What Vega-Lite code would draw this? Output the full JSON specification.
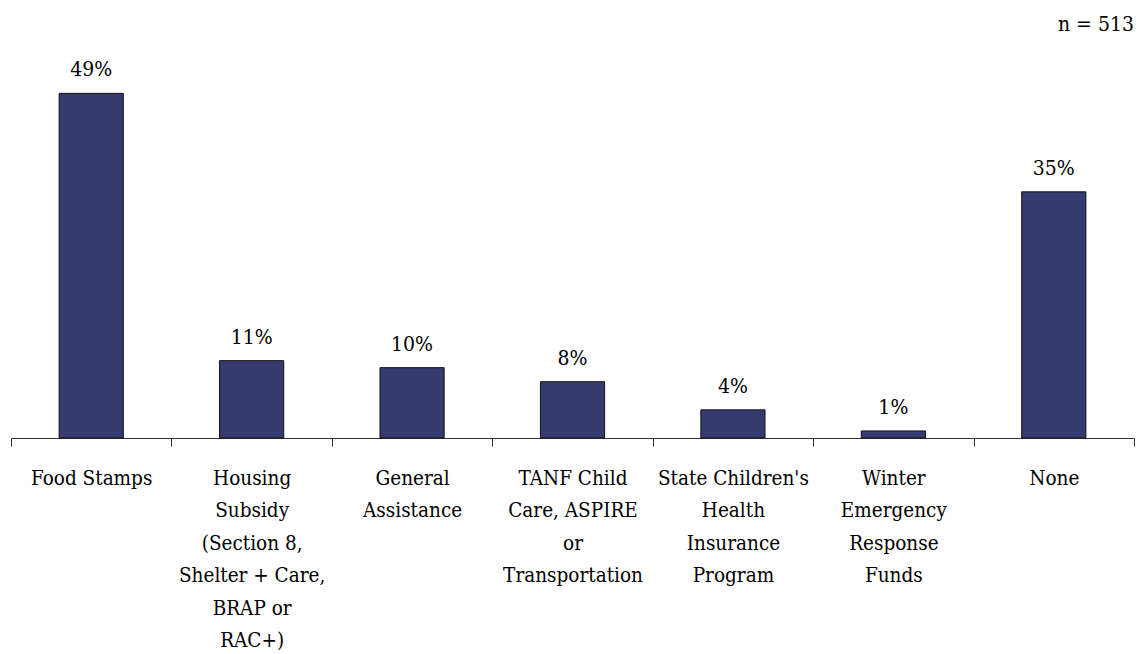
{
  "$schema": "https://vega.github.io/schema/vega-lite/v6.json",
  "autosize": "none",
  "width": 1123,
  "height": 422,
  "padding": {"left": 11, "top": 16, "right": 10, "bottom": 216},
  "background": "white",
  "config": {"view": {"stroke": null}, "font": "DejaVu Serif Condensed"},
  "data": {"values": [
    {"program": "Food Stamps", "pct": 0.49, "order": 1},
    {"program": "Housing|Subsidy|(Section 8,|Shelter + Care,|BRAP or|RAC+)", "pct": 0.11, "order": 2},
    {"program": "General|Assistance", "pct": 0.10, "order": 3},
    {"program": "TANF Child|Care, ASPIRE|or|Transportation", "pct": 0.08, "order": 4},
    {"program": "State Children's|Health|Insurance|Program", "pct": 0.04, "order": 5},
    {"program": "Winter|Emergency|Response|Funds", "pct": 0.01, "order": 6},
    {"program": "None", "pct": 0.35, "order": 7}
  ]},
  "encoding": {
    "x": {
      "field": "program", "type": "nominal", "sort": {"field": "order"},
      "scale": {"paddingInner": 0, "paddingOuter": 0},
      "axis": {
        "title": null, "labelAngle": 0, "tickBand": "extent",
        "labelExpr": "datum.value ? split(datum.value, '|') : ''",
        "labelFont": "DejaVu Serif Condensed", "labelFontSize": 20.5, "labelColor": "black",
        "labelLineHeight": 32.5, "labelPadding": 32, "labelBaseline": "middle",
        "domainColor": "#333", "tickColor": "#333", "tickSize": 8, "domainWidth": 1, "tickWidth": 1
      }
    },
    "y": {"field": "pct", "type": "quantitative", "scale": {"domain": [0, 0.6]}, "axis": null}
  },
  "layer": [
    {"mark": {"type": "bar", "width": {"band": 0.4}, "fill": "#363b6f", "stroke": "#111", "strokeWidth": 1}},
    {"mark": {"type": "text", "baseline": "alphabetic", "dy": -17, "font": "DejaVu Serif Condensed", "fontSize": 21, "color": "black"},
     "encoding": {"text": {"field": "pct", "type": "quantitative", "format": ".0%"}}},
    {"mark": {"type": "text", "font": "DejaVu Serif Condensed", "fontSize": 21, "color": "black", "align": "right", "baseline": "middle"},
     "data": {"values": [{"t": "n = 513"}]},
     "encoding": {"text": {"field": "t"}, "x": {"value": 1123}, "y": {"value": 9}}}
  ]
}
